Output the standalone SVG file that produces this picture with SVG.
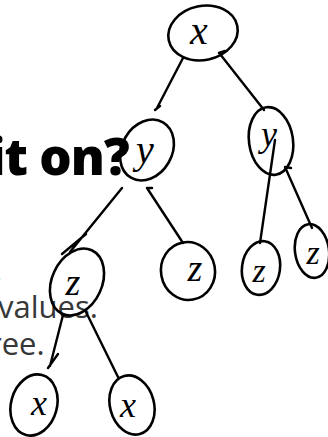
<svg xmlns="http://www.w3.org/2000/svg" width="328" height="437" viewBox="0 0 328 437">
<style>
.bg{font-family:"Open Sans","Noto Sans",sans-serif;fill:#383838;font-size:31px}
.title{font-family:"Open Sans","Noto Sans",sans-serif;font-weight:800;fill:#000;font-size:51px;letter-spacing:-1px}
.n ellipse{fill:none;stroke:#000;stroke-width:2.6}
.n text{font-family:"Liberation Serif","DejaVu Serif",serif;font-style:italic;fill:#000;text-anchor:middle}
.e path{fill:none;stroke:#000;stroke-width:2.4;stroke-linecap:round}
</style>
<rect width="328" height="437" fill="#fff"/>
<g id="slide-text">
<text class="title" x="-11" y="175">it on?</text>
<text class="bg" x="-6" y="281">.</text>
<text class="bg" x="-2" y="318">values.</text>
<text class="bg" x="-11" y="355">ree.</text>
</g>
<g class="e" id="connectors">
<path d="M183 58 L157 108 M155 110 l5 -4"/>
<path d="M220 54 L264 110 M219 53 l6 -2"/>
<path d="M122 188 L70 252 M62 254 l24 -20"/>
<path d="M147 188 L183 243 M147 188 l5 0"/>
<path d="M275 140 L260 243"/>
<path d="M285 167 L312 228 M285 167 l6 1"/>
<path d="M63 315 L50 366 M48 368 l10 -14"/>
<path d="M85 310 L118 377"/>
</g>
<g class="n" id="node-root"><ellipse cx="203" cy="33" rx="35" ry="27" transform="rotate(-12 203 33)"/><text x="199" y="44" font-size="40">x</text></g>
<g class="n" id="node-y-left"><ellipse cx="147" cy="150" rx="25" ry="32" transform="rotate(30 147 150)"/><text x="145" y="163" font-size="40">y</text></g>
<g class="n" id="node-y-right"><ellipse cx="271" cy="141" rx="22" ry="34" transform="rotate(-8 271 141)"/><text x="269" y="146" font-size="36">y</text></g>
<g class="n" id="node-z-left"><ellipse cx="77" cy="282" rx="25" ry="35" transform="rotate(25 77 282)"/><text x="73" y="295" font-size="38">z</text></g>
<g class="n" id="node-z-mid"><ellipse cx="188" cy="271" rx="27" ry="29" transform="rotate(-10 188 271)"/><text x="195" y="281" font-size="38">z</text></g>
<g class="n" id="node-z-r1"><ellipse cx="261" cy="268" rx="19" ry="27" transform="rotate(8 261 268)"/><text x="259" y="282" font-size="34">z</text></g>
<g class="n" id="node-z-r2"><ellipse cx="312" cy="251" rx="17" ry="27" transform="rotate(-8 312 251)"/><text x="313" y="264" font-size="34">z</text></g>
<g class="n" id="node-x-bl"><ellipse cx="34" cy="405" rx="23" ry="31" transform="rotate(15 34 405)"/><text x="39" y="415" font-size="36">x</text></g>
<g class="n" id="node-x-br"><ellipse cx="132" cy="405" rx="22" ry="30" transform="rotate(-15 132 405)"/><text x="128" y="417" font-size="36">x</text></g>
</svg>
